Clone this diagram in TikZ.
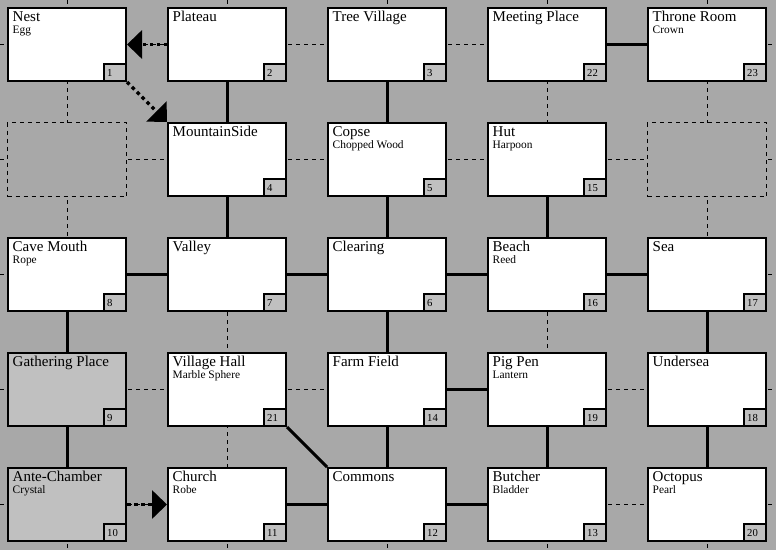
\documentclass[tikz,border=0pt]{standalone}
\usepackage{fontspec}
\setmainfont{Liberation Serif}
\usetikzlibrary{arrows.meta}
\definecolor{bggray}{HTML}{A8A8A8}
\definecolor{boxgray}{HTML}{C0C0C0}
\tikzset{
 roombox/.style={draw=black, line width=2.2pt, fill=white, minimum width=117.8pt, minimum height=72.8pt, inner sep=0pt},
 greyroom/.style={roombox, fill=boxgray},
 emptyroom/.style={draw=black, line width=1pt, dash pattern=on 4pt off 4pt, fill=bggray, minimum width=119pt, minimum height=74pt, inner sep=0pt},
 numbox/.style={draw=black, line width=2.2pt, fill=boxgray, minimum width=21.8pt, minimum height=16.8pt, inner sep=0pt},
 titletext/.style={anchor=base west, inner sep=0pt, font=\fontsize{15}{18}\selectfont},
 subtext/.style={anchor=base west, inner sep=0pt, font=\fontsize{11.4}{13}\selectfont},
 numtext/.style={anchor=base west, inner sep=0pt, font=\fontsize{10.7}{12}\selectfont},
 gridline/.style={black, line width=1pt, dash pattern=on 4pt off 4pt},
 link/.style={black, line width=3pt},
 oneway/.style={black, line width=3.5pt, dash pattern=on 3.5pt off 3.5pt, -{Triangle[length=15pt,width=28pt]}},
}
\newcommand\myroom[6]{%
 \node[#6] (r#1) at (#2+60, #3+37.5) {};
 \node[numbox] (n#1) at (#2+108, #3+65.5) {};
 \node[titletext] (t#1) at (#2+5.5, #3+14.7) {#4};
 \if\relax\detokenize{#5}\relax\else
 \node[subtext] (s#1) at (#2+5.5, #3+26.5) {#5};
 \fi
 \node[numtext] (k#1) at (#2+100, #3+69.3) {#1};
}
\begin{document}
\begin{tikzpicture}[x=1pt, y=-1pt]
\fill[bggray] (0,0) rectangle (776,550);
\useasboundingbox (0,0) rectangle (776,550);
% dashed grid through the room centres
\foreach \gx in {67,227,387,547,707} \draw[gridline] (\gx,0) -- (\gx,550);
\foreach \gy in {44.5,159.5,274.5,389.5,504.5} \draw[gridline] (0,\gy) -- (776,\gy);
% empty places
\node[emptyroom] (e1) at (67,159.5) {};
\node[emptyroom] (e2) at (707,159.5) {};
% rooms
\myroom{1}{7}{7}{Nest}{Egg}{roombox}
\myroom{2}{167}{7}{Plateau}{}{roombox}
\myroom{3}{327}{7}{Tree Village}{}{roombox}
\myroom{22}{487}{7}{Meeting Place}{}{roombox}
\myroom{23}{647}{7}{Throne Room}{Crown}{roombox}
\myroom{4}{167}{122}{MountainSide}{}{roombox}
\myroom{5}{327}{122}{Copse}{Chopped Wood}{roombox}
\myroom{15}{487}{122}{Hut}{Harpoon}{roombox}
\myroom{8}{7}{237}{Cave Mouth}{Rope}{roombox}
\myroom{7}{167}{237}{Valley}{}{roombox}
\myroom{6}{327}{237}{Clearing}{}{roombox}
\myroom{16}{487}{237}{Beach}{Reed}{roombox}
\myroom{17}{647}{237}{Sea}{}{roombox}
\myroom{9}{7}{352}{Gathering Place}{}{greyroom}
\myroom{21}{167}{352}{Village Hall}{Marble Sphere}{roombox}
\myroom{14}{327}{352}{Farm Field}{}{roombox}
\myroom{19}{487}{352}{Pig Pen}{Lantern}{roombox}
\myroom{18}{647}{352}{Undersea}{}{roombox}
\myroom{10}{7}{467}{Ante-Chamber}{Crystal}{greyroom}
\myroom{11}{167}{467}{Church}{Robe}{roombox}
\myroom{12}{327}{467}{Commons}{}{roombox}
\myroom{13}{487}{467}{Butcher}{Bladder}{roombox}
\myroom{20}{647}{467}{Octopus}{Pearl}{roombox}
% two-way links
\draw[link] (r2.south) -- (r4.north);
\draw[link] (r3.south) -- (r5.north);
\draw[link] (r22.east) -- (r23.west);
\draw[link] (r4.south) -- (r7.north);
\draw[link] (r5.south) -- (r6.north);
\draw[link] (r15.south) -- (r16.north);
\draw[link] (r8.east) -- (r7.west);
\draw[link] (r7.east) -- (r6.west);
\draw[link] (r6.east) -- (r16.west);
\draw[link] (r16.east) -- (r17.west);
\draw[link] (r8.south) -- (r9.north);
\draw[link] (r6.south) -- (r14.north);
\draw[link] (r17.south) -- (r18.north);
\draw[link] (r9.south) -- (r10.north);
\draw[link] (r21.south east) -- (r12.north west);
\draw[link] (r14.east) -- (r19.west);
\draw[link] (r14.south) -- (r12.north);
\draw[link] (r19.south) -- (r13.north);
\draw[link] (r18.south) -- (r20.north);
\draw[link] (r11.east) -- (r12.west);
\draw[link] (r12.east) -- (r13.west);
% one-way links
\draw[oneway] (r2.west) -- (r1.east);
\draw[oneway] (r1.south east) -- (r4.north west);
\draw[oneway] (r10.east) -- (r11.west);
\end{tikzpicture}
\end{document}
